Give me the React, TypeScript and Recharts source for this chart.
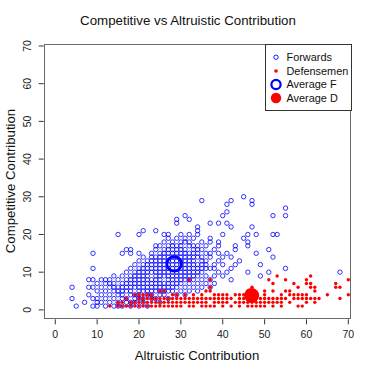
import { ScatterChart, Scatter, XAxis, YAxis, Label } from 'recharts';

const xTicks = [0, 10, 20, 30, 40, 50, 60, 70];
const yTicks = [0, 10, 20, 30, 40, 50, 60, 70];

// forwards: for each altruistic value, the competitive values seen in that column
const forwardCols: { x: number; ys: number[] }[] = [
  { x: 4, ys: [3, 6] },
  { x: 5, ys: [1] },
  { x: 7, ys: [2] },
  { x: 8, ys: [4, 6, 8] },
  { x: 9, ys: [1, 3, 6, 8, 11, 15] },
  { x: 10, ys: [1, 2, 3, 5, 7] },
  { x: 11, ys: [2, 4, 6, 8] },
  { x: 12, ys: [1, 3, 5, 7, 8] },
  { x: 13, ys: [2, 4, 6, 7, 8] },
  { x: 14, ys: [1, 3, 5, 6, 7, 9] },
  { x: 15, ys: [1, 2, 4, 5, 6, 8, 20] },
  { x: 16, ys: [1, 3, 4, 5, 6, 7, 9, 15] },
  { x: 17, ys: [2, 3, 5, 6, 7, 8, 10, 16] },
  { x: 18, ys: [1, 2, 4, 5, 6, 7, 8, 9, 11, 15, 16] },
  { x: 19, ys: [2, 3, 4, 6, 7, 8, 9, 10, 12] },
  { x: 20, ys: [1, 3, 4, 5, 6, 7, 8, 9, 10, 11, 13, 15, 20] },
  { x: 21, ys: [2, 3, 5, 6, 7, 8, 9, 10, 11, 12, 14, 21] },
  { x: 22, ys: [1, 4, 5, 6, 7, 8, 9, 10, 11, 12, 13] },
  { x: 23, ys: [3, 4, 5, 6, 7, 8, 10, 11, 12, 13, 14, 15] },
  { x: 24, ys: [3, 5, 6, 7, 8, 9, 10, 11, 12, 13, 14, 16, 17, 21] },
  { x: 25, ys: [2, 4, 5, 6, 7, 8, 9, 10, 11, 12, 13, 14, 15, 17] },
  { x: 26, ys: [4, 5, 6, 7, 9, 10, 11, 12, 13, 14, 15, 16, 18, 20] },
  { x: 27, ys: [3, 5, 6, 7, 8, 9, 10, 11, 12, 13, 14, 15, 16, 17, 19, 20] },
  { x: 28, ys: [5, 6, 7, 8, 9, 10, 11, 12, 13, 14, 15, 16, 17, 18] },
  { x: 29, ys: [4, 6, 7, 8, 9, 10, 11, 12, 13, 14, 15, 16, 17, 19, 23, 24] },
  { x: 30, ys: [5, 7, 8, 9, 10, 11, 12, 13, 14, 15, 16, 17, 18, 20] },
  { x: 31, ys: [4, 6, 8, 9, 10, 11, 12, 13, 14, 15, 16, 18, 19, 25] },
  { x: 32, ys: [5, 7, 8, 9, 10, 11, 12, 13, 14, 15, 17, 18, 20, 24] },
  { x: 33, ys: [6, 8, 9, 10, 11, 12, 13, 14, 15, 16, 17, 19] },
  { x: 34, ys: [5, 7, 9, 10, 11, 12, 14, 15, 16, 17, 20, 21, 22] },
  { x: 35, ys: [6, 8, 10, 11, 12, 13, 14, 16, 18, 29] },
  { x: 36, ys: [7, 9, 11, 12, 13, 15, 17] },
  { x: 37, ys: [6, 8, 11, 14, 15, 18, 19, 23] },
  { x: 38, ys: [7, 9, 11, 12, 16] },
  { x: 39, ys: [10, 13, 15, 17, 18, 23] },
  { x: 40, ys: [9, 12, 14, 20, 25] },
  { x: 41, ys: [10, 15, 23, 26, 28] },
  { x: 42, ys: [8, 11, 14, 22, 29] },
  { x: 43, ys: [12, 16, 17] },
  { x: 44, ys: [13] },
  { x: 45, ys: [19, 30] },
  { x: 46, ys: [10, 17, 18, 20] },
  { x: 47, ys: [22, 28, 29] },
  { x: 48, ys: [15, 20] },
  { x: 49, ys: [9, 12] },
  { x: 51, ys: [10, 16] },
  { x: 52, ys: [14, 20, 25] },
  { x: 53, ys: [20] },
  { x: 55, ys: [11, 25, 27] },
  { x: 68, ys: [10] },
];

const defenseCols: { x: number; ys: number[] }[] = [
  { x: 13, ys: [1] },
  { x: 15, ys: [1, 2] },
  { x: 16, ys: [1, 2] },
  { x: 17, ys: [1, 3] },
  { x: 18, ys: [1, 2] },
  { x: 19, ys: [1, 2, 4] },
  { x: 20, ys: [1, 2, 3, 4] },
  { x: 21, ys: [1, 2, 3, 4] },
  { x: 22, ys: [1, 2, 3, 4] },
  { x: 23, ys: [1, 2, 3, 4] },
  { x: 24, ys: [1, 2, 3] },
  { x: 25, ys: [1, 2, 3, 5] },
  { x: 26, ys: [1, 2, 3, 5] },
  { x: 27, ys: [1, 2, 3] },
  { x: 28, ys: [1, 2, 3, 4] },
  { x: 29, ys: [1, 2, 3, 4] },
  { x: 30, ys: [1, 2, 3] },
  { x: 31, ys: [2, 3, 4] },
  { x: 32, ys: [1, 2, 3, 8] },
  { x: 33, ys: [1, 2, 3, 4] },
  { x: 34, ys: [2, 3] },
  { x: 35, ys: [1, 2, 3, 4] },
  { x: 36, ys: [1, 2, 3, 5] },
  { x: 37, ys: [1, 3, 5, 6, 8] },
  { x: 38, ys: [1, 2, 3, 4] },
  { x: 39, ys: [2, 3, 4] },
  { x: 40, ys: [1, 2, 3, 4] },
  { x: 41, ys: [2, 3, 4] },
  { x: 42, ys: [1, 3] },
  { x: 43, ys: [2, 4] },
  { x: 44, ys: [1, 2, 3, 4] },
  { x: 45, ys: [2, 3, 4] },
  { x: 46, ys: [1, 2, 4, 5] },
  { x: 47, ys: [1, 2, 3, 4, 6] },
  { x: 48, ys: [1, 2, 3, 4] },
  { x: 49, ys: [1, 2, 3] },
  { x: 50, ys: [1, 2, 3, 4, 5] },
  { x: 51, ys: [2, 3, 8] },
  { x: 52, ys: [1, 2, 3, 5, 7] },
  { x: 53, ys: [2, 3, 9] },
  { x: 54, ys: [1, 2, 3, 4] },
  { x: 55, ys: [3, 5, 8] },
  { x: 56, ys: [2, 4, 5] },
  { x: 57, ys: [3, 4, 7] },
  { x: 58, ys: [1, 3, 4, 6] },
  { x: 59, ys: [1, 3, 4] },
  { x: 60, ys: [2, 3, 4, 7, 8] },
  { x: 61, ys: [3, 6, 7, 9] },
  { x: 62, ys: [2, 3, 5, 6] },
  { x: 63, ys: [3] },
  { x: 65, ys: [4] },
  { x: 67, ys: [6, 7] },
  { x: 68, ys: [3, 6] },
  { x: 70, ys: [4, 8] },
];

const avgForward = [{ x: 28.4, y: 12.2 }];
const avgDefense = [{ x: 46.9, y: 3.8 }];

const forwards = forwardCols.flatMap((c) => c.ys.map((y) => ({ x: c.x, y })));
const defensemen = defenseCols.flatMap((c) => c.ys.map((y) => ({ x: c.x, y })));

const FONT = '"Liberation Sans", Arial, Helvetica, sans-serif';
const BLUE = '#0000ff';
const RED = '#ff0000';

function YTick(props: any) {
  const { y, payload } = props;
  return (
    <text
      x={27}
      y={y}
      transform={`rotate(-90, 27, ${y})`}
      textAnchor="middle"
      dominantBaseline="central"
      fontSize={10.5}
      fill="#222"
      fontFamily={FONT}
    >
      {payload.value}
    </text>
  );
}

export default function App() {
  return (
    <div
      style={{
        position: 'absolute',
        left: 0,
        top: 0,
        width: 374,
        height: 374,
        background: '#fff',
        fontFamily: FONT,
      }}
    >
      <div
        style={{
          position: 'absolute',
          left: 0,
          width: 376,
          top: 13,
          textAlign: 'center',
          fontSize: 13.3,
          color: '#111',
        }}
      >
        Competitive vs Altruistic Contribution
      </div>

      <ScatterChart
        width={374}
        height={374}
        margin={{ top: 43.5, right: 23.3, bottom: 14.7, left: 8.7 }}
      >
        <XAxis
          type="number"
          dataKey="x"
          domain={[-2.77, 70.57]}
          ticks={xTicks}
          allowDataOverflow
          height={40}
          axisLine={false}
          tickSize={5}
          tickMargin={6}
          tickLine={{ stroke: '#333' }}
          tick={{ fill: '#222', fontSize: 10.5, fontFamily: FONT }}
        >
          <Label
            content={() => (
              <text x={197} y={360} textAnchor="middle" fontSize={13.2} fill="#111" fontFamily={FONT}>
                Altruistic Contribution
              </text>
            )}
          />
        </XAxis>
        <YAxis
          type="number"
          dataKey="y"
          domain={[-2.5, 70.66]}
          ticks={yTicks}
          allowDataOverflow
          width={35}
          axisLine={false}
          tickSize={5}
          tickLine={{ stroke: '#333' }}
          tick={<YTick />}
        >
          <Label
            content={() => (
              <text
                x={10}
                y={181}
                transform="rotate(-90, 10, 181)"
                textAnchor="middle"
                dominantBaseline="central"
                fontSize={13.2}
                fill="#111"
                fontFamily={FONT}
              >
                Competitive Contribution
              </text>
            )}
          />
        </YAxis>
        <Scatter
          name="Forwards"
          data={forwards}
          isAnimationActive={false}
          shape={(p: any) => (
            <circle cx={p.cx} cy={p.cy} r={2.2} fill="none" stroke={BLUE} strokeWidth={0.8} />
          )}
        />
        <Scatter
          name="Defensemen"
          data={defensemen}
          isAnimationActive={false}
          shape={(p: any) => <circle cx={p.cx} cy={p.cy} r={1.7} fill={RED} />}
        />
        <Scatter
          name="Average F"
          data={avgForward}
          isAnimationActive={false}
          shape={(p: any) => (
            <circle cx={p.cx} cy={p.cy} r={7.3} fill="none" stroke={BLUE} strokeWidth={2.7} />
          )}
        />
        <Scatter
          name="Average D"
          data={avgDefense}
          isAnimationActive={false}
          shape={(p: any) => <circle cx={p.cx} cy={p.cy} r={7.5} fill={RED} />}
        />
      </ScatterChart>

      {/* plot box */}
      <div
        style={{
          position: 'absolute',
          left: 43.5,
          top: 43.5,
          width: 307,
          height: 275.5,
          border: '1px solid #6a6a6a',
          boxSizing: 'border-box',
          pointerEvents: 'none',
        }}
      />

      {/* legend */}
      <svg
        width={88}
        height={68}
        style={{ position: 'absolute', left: 264.5, top: 43.5 }}
      >
        <rect x={0.5} y={0.5} width={86} height={66} fill="#fff" stroke="#333" strokeWidth={1} />
        <circle cx={11} cy={13.2} r={2.2} fill="none" stroke={BLUE} strokeWidth={0.9} />
        <circle cx={11} cy={27} r={1.8} fill={RED} />
        <circle cx={11} cy={40.5} r={4.6} fill="none" stroke={BLUE} strokeWidth={2.2} />
        <circle cx={11} cy={54} r={5.2} fill={RED} />
        {['Forwards', 'Defensemen', 'Average F', 'Average D'].map((t, i) => (
          <text
            key={t}
            x={21.5}
            y={13.2 + i * 13.6}
            dominantBaseline="central"
            fontSize={10.9}
            fill="#111"
            fontFamily={FONT}
          >
            {t}
          </text>
        ))}
      </svg>
    </div>
  );
}
